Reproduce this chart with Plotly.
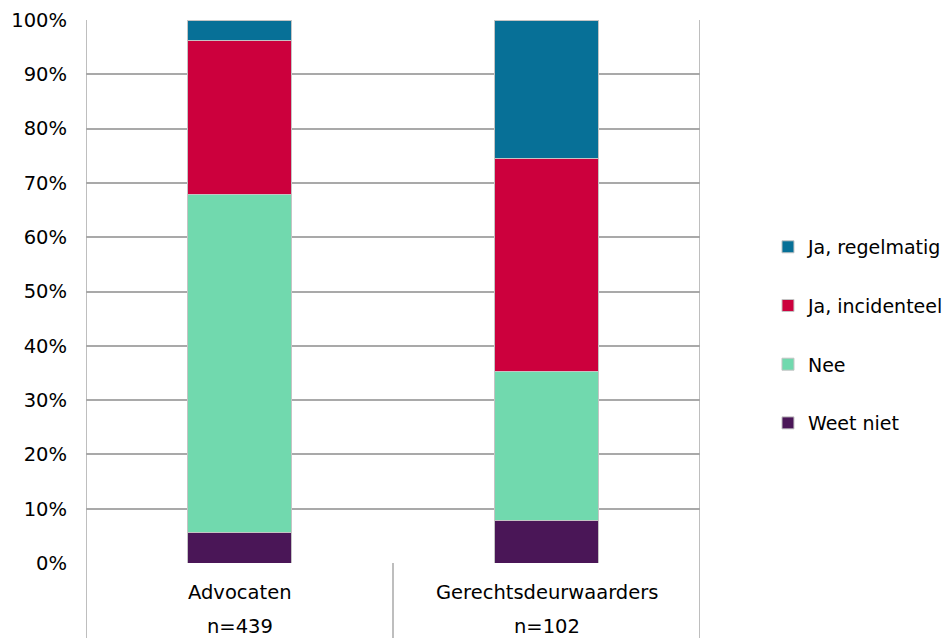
import plotly.graph_objects as go

categories = ["Advocaten", "Gerechtsdeurwaarders"]
n_labels = ["n=439", "n=102"]
series_names = ["Weet niet", "Nee", "Ja, incidenteel", "Ja, regelmatig"]
weet_niet = [5.6, 7.8]
nee = [62.2, 27.5]
ja_incidenteel = [28.4, 39.2]
ja_regelmatig = [3.8, 25.5]
colors = ["#4a1657", "#71d9ae", "#cc003d", "#077097"]

FONT = "DejaVu Sans"
FS = 19.5

fig = go.Figure()
for i, (name, vals, col) in enumerate(zip(series_names, [weet_niet, nee, ja_incidenteel, ja_regelmatig], colors)):
    fig.add_trace(go.Bar(
        x=categories, y=vals, name=name, legendgroup=name, legendrank=100 - i,
        marker=dict(color=col, line=dict(color="#c4c4c4", width=1)),
        hoverinfo="name+y",
    ))

grid = "#a9a9a9"
shapes = []
for xv in [-0.5, 1.5, 0.5]:
    shapes.append(dict(type="line", xref="x", yref="paper", x0=xv, x1=xv,
                       y0=-0.5, y1=1 if xv != 0.5 else 0,
                       line=dict(color=grid, width=1.5), layer="above"))

annotations = []
for c, nl in zip(categories, n_labels):
    annotations.append(dict(x=c, y=0, xref="x", yref="paper", text=c, showarrow=False,
                            yanchor="middle", yshift=-29, font=dict(family=FONT, size=FS, color="#000")))
    annotations.append(dict(x=c, y=0, xref="x", yref="paper", text=nl, showarrow=False,
                            yanchor="middle", yshift=-63, font=dict(family=FONT, size=FS, color="#000")))

# page body has an 8px margin: figure spans 942x630 so the page is 950x638
fig.update_layout(
    barmode="stack",
    bargap=0.66,
    width=942, height=630,
    margin=dict(l=78, r=250, t=12, b=75, autoexpand=False),
    paper_bgcolor="white", plot_bgcolor="white",
    font=dict(family=FONT, size=FS, color="#000"),
    xaxis=dict(range=[-0.5, 1.5], showticklabels=False, showgrid=False, zeroline=False,
               showline=False, fixedrange=True, automargin=False),
    yaxis=dict(range=[0, 100], tickvals=list(range(0, 101, 10)),
               ticktext=[f"{v}%" for v in range(0, 101, 10)],
               showgrid=True, gridcolor=grid, gridwidth=1.5, zeroline=False,
               showline=False, ticks="", ticklabelstandoff=18, automargin=False,
               tickfont=dict(family=FONT, size=FS, color="#000")),
    legend=dict(x=1.1107, xanchor="left", y=0.42, yanchor="middle",
                traceorder="grouped", tracegroupgap=31,
                font=dict(family=FONT, size=19, color="#000"),
                itemwidth=30, bgcolor="rgba(0,0,0,0)"),
    shapes=shapes,
    annotations=annotations,
)
fig.write_html("out.html")
